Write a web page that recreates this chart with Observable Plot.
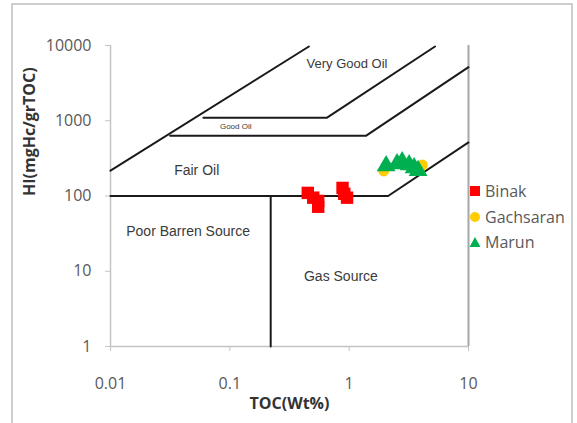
<!DOCTYPE html>
<html>
<head>
<meta charset="utf-8">
<script src="https://cdn.jsdelivr.net/npm/d3@7"></script>
<script src="https://cdn.jsdelivr.net/npm/@observablehq/plot@0.6"></script>
<style>
  body { margin: 0; background: #fff; }
  #wrap { position: relative; width: 577px; height: 423px; overflow: hidden; background: #fff; }
  #frame { position: absolute; left: 11px; top: 3px; width: 562px; height: 460px; border: 2px solid #cdcdcd; box-sizing: border-box; }
  #chart { position: absolute; left: 0; top: 0; }
  #legend { position: absolute; left: 468px; top: 180px; font-family: "Open Sans", sans-serif; font-size: 16px; color: #595959; }
  .row { position: absolute; left: 0; height: 20px; display: flex; align-items: center; white-space: nowrap; }
  .row svg { width: 14px; height: 14px; margin-right: 3px; }
</style>
</head>
<body>
<div id="wrap">
  <div id="frame"></div>
  <div id="chart"></div>
  <div id="legend"></div>
</div>
<script>
// ---- data ----
const xTicks = [0.01, 0.1, 1, 10];
const xTickLabels = ["0.01", "0.1", "1", "10"];
const yTicks = [1, 10, 100, 1000, 10000];
const yTickLabels = ["1", "10", "100", "1000", "10000"];

const seriesNames = ["Binak", "Gachsaran", "Marun"];
const seriesColors = ["#ff0000", "#ffcc00", "#00b050"];

const binakTOC = [0.45, 0.50, 0.55, 0.55, 0.88, 0.91, 0.96];
const binakHI  = [110, 95, 86, 72, 128, 107, 95];

const gachsaranTOC = [1.95, 2.9, 3.6, 4.1];
const gachsaranHI  = [215, 265, 232, 258];

const marunTOC = [2.04, 2.52, 2.78, 3.18, 3.50, 3.78];
const marunHI  = [252, 268, 285, 260, 237, 217];

// classification boundary lines (TOC, HI vertices)
const upperTOC   = [0.01, 0.46];            const upperHI   = [217, 9700];
const goodOilTOC = [0.06, 0.653, 5.24];     const goodOilHI = [1100, 1100, 9700];
const fairOilTOC = [0.0316, 1.39, 10];      const fairOilHI = [634, 634, 5150];
const gasTOC     = [0.01, 2.12, 10];        const gasHI     = [100, 100, 515];
const barrenTOC  = [0.22, 0.22];            const barrenHI  = [1, 100];

// zone labels
const zoneLabels = ["Very Good Oil", "Good Oil", "Fair Oil", "Poor Barren Source", "Gas Source"];
const zoneTOC    = [0.96, 0.112, 0.0528, 0.0447, 0.853];
const zoneHI     = [5700, 835, 217, 33.4, 8.47];
const zoneSize   = [13, 8, 14, 14, 14];

const xTitle = "TOC(Wt%)";
const yTitle = "HI(mgHc/grTOC)";

// ---- build tables ----
const toPts = (xs, ys, extra = {}) => xs.map((x, i) => ({ x, y: ys[i], ...extra }));
const lines = [
  toPts(upperTOC, upperHI, { id: "upper" }),
  toPts(goodOilTOC, goodOilHI, { id: "goodOil" }),
  toPts(fairOilTOC, fairOilHI, { id: "fairOil" }),
  toPts(gasTOC, gasHI, { id: "gas" }),
  toPts(barrenTOC, barrenHI, { id: "barren" })
].flat();
const zones = zoneLabels.map((t, i) => ({ t, x: zoneTOC[i], y: zoneHI[i], s: zoneSize[i] }));
const binak = toPts(binakTOC, binakHI);
const gach = toPts(gachsaranTOC, gachsaranHI);
const marun = toPts(marunTOC, marunHI);

const chart = Plot.plot({
  width: 577,
  height: 423,
  marginLeft: 110,
  marginRight: 109,
  marginTop: 45,
  marginBottom: 77,
  style: { fontFamily: "Open Sans, sans-serif", background: "transparent", overflow: "visible" },
  x: { type: "log", domain: [0.01, 10] },
  y: { type: "log", domain: [1, 10000] },
  marks: [
    Plot.ruleX([0.01], { stroke: "#c4c4c4", strokeWidth: 1.5 }),
    Plot.ruleY([1], { stroke: "#c4c4c4", strokeWidth: 1.5 }),
    Plot.ruleX([10], { stroke: "#a6a6a6", strokeWidth: 2 }),
    Plot.axisX(xTicks, { tickSize: 5, tickPadding: 26, tickFormat: (d) => xTickLabels[xTicks.indexOf(d)], stroke: "#c4c4c4", fill: "#595959", fontSize: 16, label: null }),
    Plot.axisY(yTicks, { tickSize: 5, tickPadding: 14, tickFormat: (d) => yTickLabels[yTicks.indexOf(d)], stroke: "#c4c4c4", fill: "#595959", fontSize: 16, label: null }),
    Plot.line(lines, { x: "x", y: "y", z: "id", stroke: "#1a1a1a", strokeWidth: 2, curve: "linear" }),
    Plot.text(zones, { x: "x", y: "y", text: "t", fontSize: "s", fontFamily: "Liberation Sans, Arial, sans-serif", fill: "#3a3a3a" }),
    Plot.dot(binak, { x: "x", y: "y", symbol: "square", r: 7, fill: seriesColors[0], stroke: "none" }),
    Plot.dot(gach, { x: "x", y: "y", symbol: "circle", r: 5.5, fill: seriesColors[1], stroke: "none" }),
    Plot.dot(marun, { x: "x", y: "y", symbol: "triangle", r: 7, fill: seriesColors[2], stroke: "none" }),
    Plot.text([xTitle], { frameAnchor: "bottom", dy: 62, fontWeight: "bold", fontSize: 16, fill: "#333" }),
    Plot.text([yTitle], { frameAnchor: "left", dx: -80.5, rotate: -90, fontWeight: "bold", fontSize: 16, fill: "#333" })
  ]
});
document.getElementById("chart").appendChild(chart);

// ---- legend ----
const legend = document.getElementById("legend");
const legendY = [11, 37, 62];
const shapes = [
  '<rect x="2" y="2" width="10" height="10" fill="COLOR"/>',
  '<circle cx="7" cy="7" r="5" fill="COLOR"/>',
  '<path d="M7,2 L12.5,12 L1.5,12 Z" fill="COLOR"/>'
];
seriesNames.forEach((name, i) => {
  const row = document.createElement("div");
  row.className = "row";
  row.style.top = (legendY[i] - 10) + "px";
  row.innerHTML = '<svg viewBox="0 0 14 14">' + shapes[i].replace("COLOR", seriesColors[i]) + '</svg><span>' + name + '</span>';
  legend.appendChild(row);
});
</script>
</body>
</html>
